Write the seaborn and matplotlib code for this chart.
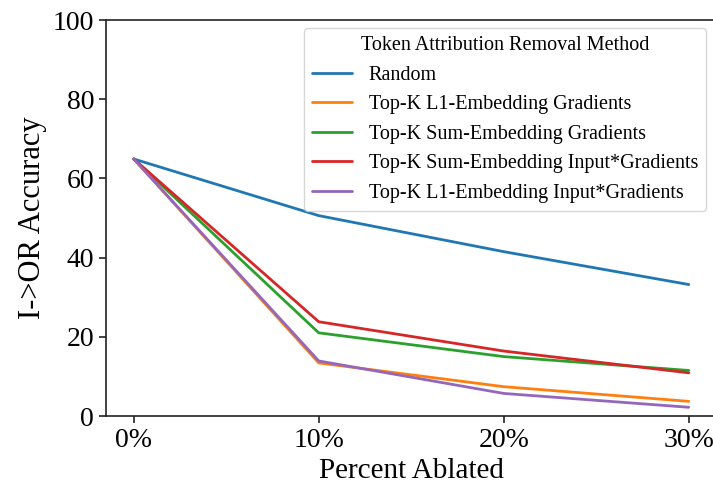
import matplotlib
matplotlib.use("Agg")
import matplotlib.pyplot as plt
import seaborn as sns
import pandas as pd

x_labels = ["0%", "10%", "20%", "30%"]
methods = [
    "Random",
    "Top-K L1-Embedding Gradients",
    "Top-K Sum-Embedding Gradients",
    "Top-K Sum-Embedding Input*Gradients",
    "Top-K L1-Embedding Input*Gradients",
]
random_vals = [64.9, 50.6, 41.5, 33.2]
l1_grad = [64.9, 13.4, 7.4, 3.7]
sum_grad = [64.9, 21.0, 15.0, 11.5]
sum_ixg = [64.9, 23.8, 16.4, 10.9]
l1_ixg = [64.9, 13.9, 5.7, 2.2]

series = [random_vals, l1_grad, sum_grad, sum_ixg, l1_ixg]
rows = []
for m, vals in zip(methods, series):
    for i, v in enumerate(vals):
        rows.append({"pos": i, "Percent Ablated": x_labels[i], "acc": v, "method": m})
df = pd.DataFrame(rows)

sns.set_style("ticks")
plt.rcParams["font.family"] = ["Liberation Serif", "DejaVu Serif"]
plt.rcParams["mathtext.fontset"] = "stix"
plt.rcParams["text.color"] = "black"
plt.rcParams["axes.labelcolor"] = "black"
plt.rcParams["xtick.color"] = "#222222"
plt.rcParams["ytick.color"] = "#222222"
plt.rcParams["xtick.labelcolor"] = "black"
plt.rcParams["ytick.labelcolor"] = "black"
plt.rcParams["axes.edgecolor"] = "#222222"

fig = plt.figure(figsize=(7.13, 4.88), dpi=100)
ax = fig.add_axes([106 / 713, 1 - 416 / 488, 610.5 / 713, 396 / 488])

palette = ["#1f77b4", "#ff7f0e", "#2ca02c", "#d62728", "#9467bd"]
sns.lineplot(data=df, x="pos", y="acc", hue="method", hue_order=methods,
             palette=palette, linewidth=2, ax=ax)

ax.set_xlim(-0.15, 3.15)
ax.set_ylim(0, 100)
ax.set_xticks(range(4))
ax.set_xticklabels(x_labels)
ax.set_yticks([0, 20, 40, 60, 80, 100])
ax.tick_params(labelsize=20, length=5, width=1.2)
ax.set_xlabel("Percent Ablated", fontsize=21)
ax.set_ylabel("I->OR Accuracy", fontsize=22)
for s in ax.spines.values():
    s.set_linewidth(1.2)

leg = ax.legend(title="Token Attribution Removal Method", loc="upper right",
                bbox_to_anchor=(706 / 713, 1 - 28 / 488), bbox_transform=fig.transFigure,
                borderaxespad=0, fontsize=14.5, title_fontsize=14.5, frameon=True,
                labelspacing=0.52)
leg.get_frame().set_edgecolor("#cccccc")

fig.savefig("out.png", dpi=100)
